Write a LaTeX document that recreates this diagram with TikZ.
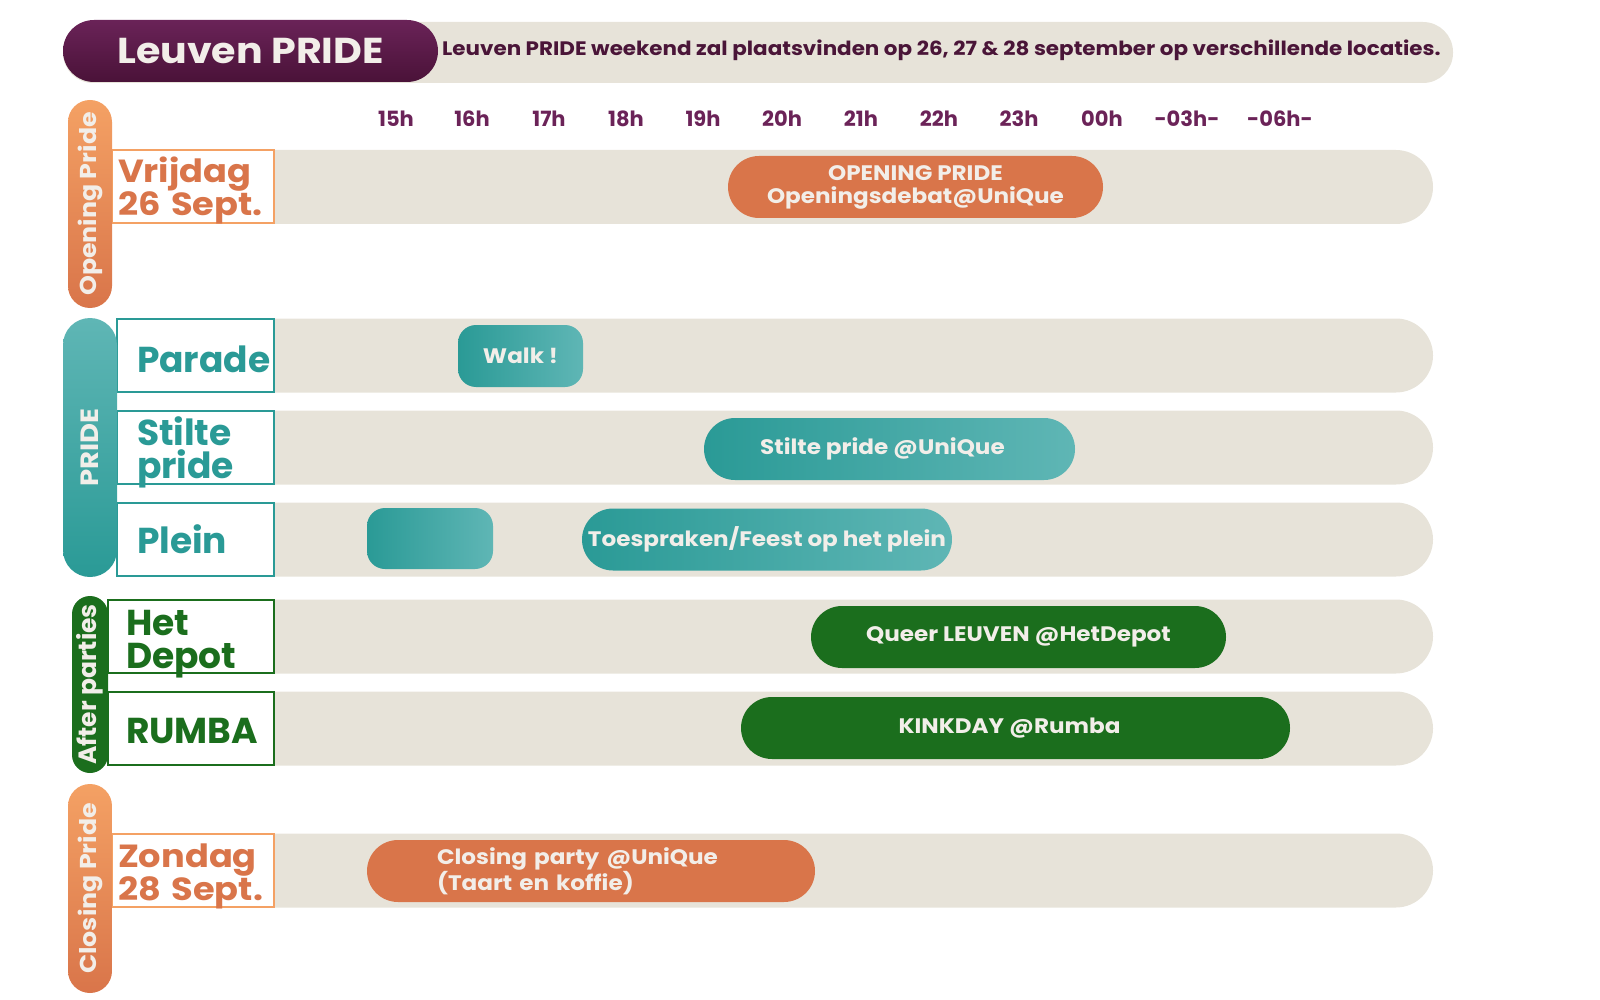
\documentclass[tikz,border=0pt]{standalone}
\usepackage{fontspec}
\setmainfont{Poppins}
\newfontfamily\wide{Poppins}[FakeStretch=1.1]
\usepackage{tikz}

\definecolor{sand}{HTML}{E7E3D9}
\definecolor{plum}{HTML}{6B2358}
\definecolor{plumdark}{HTML}{4A1538}
\definecolor{plumtop}{HTML}{6A2358}
\definecolor{plumbot}{HTML}{4A1238}
\definecolor{orng}{HTML}{D9754A}
\definecolor{ornglight}{HTML}{F4A164}
\definecolor{tealA}{HTML}{2A9A96}
\definecolor{tealB}{HTML}{5FB6B5}
\definecolor{grn}{HTML}{1B6E1D}
\definecolor{paper}{HTML}{F2EEE9}
\hyphenpenalty=10000

\begin{document}
\begin{tikzpicture}[x=1pt, y=-1pt,
  lane/.style={rectangle, fill=sand, rounded corners=37pt, minimum width=1233pt, minimum height=74pt, inner sep=0pt},
  hour/.style={text=plum, font=\fontsize{21}{24}\selectfont\bfseries, inner sep=0pt},
  tag/.style={rectangle, draw, fill=white, line width=1.5pt, minimum height=73pt, inner ysep=-6pt, align=left},
  big/.style={font=\fontsize{36}{33}\selectfont\bfseries},
  date/.style={font=\wide\fontsize{32}{33}\selectfont\bfseries},
  side/.style={rectangle, inner sep=0pt},
  sidetext/.style={rotate=90, text=paper, font=\wide\fontsize{23}{25}\selectfont\bfseries, inner sep=0pt},
  event/.style={rectangle, rounded corners=31pt, minimum height=62pt, inner sep=0pt, text=paper, align=center, font=\wide\fontsize{21}{23}\selectfont\bfseries},
  tealfill/.style={left color=tealA, right color=tealB}
]
  \useasboundingbox (0,0) rectangle (1600,1000);

  % header
  \node[rectangle, fill=sand, rounded corners=30pt, minimum width=1390pt, minimum height=61pt, inner sep=0pt] (hdr) at (758,52.5) {};
  \node[rectangle, top color=plumtop, bottom color=plumbot, rounded corners=31pt, minimum width=375pt, minimum height=62pt, inner sep=0pt,
        text=paper, font=\wide\fontsize{36}{38}\selectfont\bfseries] (title) at (250.5,51) {Leuven PRIDE};
  \node[text=plumdark, font=\wide\fontsize{19.5}{22}\selectfont\bfseries, anchor=west, inner sep=0pt] (intro) at (442,50)
        {Leuven PRIDE weekend zal plaatsvinden op 26, 27 \& 28 september op verschillende locaties.};

  % hours
  \node[hour] (t15) at (396,119) {15h};
  \node[hour] (t16) at (472,119) {16h};
  \node[hour] (t17) at (549,119) {17h};
  \node[hour] (t18) at (626,119) {18h};
  \node[hour] (t19) at (703,119) {19h};
  \node[hour] (t20) at (782,119) {20h};
  \node[hour] (t21) at (861,119) {21h};
  \node[hour] (t22) at (939,119) {22h};
  \node[hour] (t23) at (1019,119) {23h};
  \node[hour] (t00) at (1102,119) {00h};
  \node[hour] (t03) at (1187,119) {-03h-};
  \node[hour] (t06) at (1280,119) {-06h-};

  % lanes
  \node[lane] (l1) at (816.5,187) {};
  \node[lane] (l2) at (816.5,355.5) {};
  \node[lane] (l3) at (816.5,447.5) {};
  \node[lane] (l4) at (816.5,539.5) {};
  \node[lane] (l5) at (816.5,636.5) {};
  \node[lane] (l6) at (816.5,728.5) {};
  \node[lane] (l7) at (816.5,870.5) {};

  % row labels
  \node[tag, draw=ornglight, text=orng, date, minimum width=162pt, inner xsep=6pt, text width=150pt] (vrij) at (193,186.5) {\rule{0pt}{34pt}Vrijdag\\26 Sept.};
  \node[tag, draw=tealA, text=tealA, big, minimum width=157pt, inner xsep=20pt, text width=117pt] (parade) at (195.5,355.5) {\rule{0pt}{34pt}Parade};
  \node[tag, draw=tealA, text=tealA, big, minimum width=157pt, inner xsep=20pt, text width=117pt] (stilte) at (195.5,447.5) {\rule{0pt}{38pt}Stilte\\pride};
  \node[tag, draw=tealA, text=tealA, big, minimum width=157pt, inner xsep=20pt, text width=117pt] (plein) at (195.5,539.5) {Plein};
  \node[tag, draw=grn, text=grn, big, minimum width=166pt, inner xsep=18pt, text width=130pt] (depot) at (191,636.5) {\rule{0pt}{40pt}Het\\Depot};
  \node[tag, draw=grn, text=grn, big, minimum width=166pt, inner xsep=18pt, text width=130pt] (rumba) at (191,728.5) {\rule{0pt}{30pt}RUMBA};
  \node[tag, draw=ornglight, text=orng, date, minimum width=162pt, inner xsep=6pt, text width=150pt] (zon) at (193,870.5) {\rule{0pt}{36pt}Zondag\\28 Sept.};

  % side bars
  \node[side, top color=ornglight, bottom color=orng, rounded corners=22pt, minimum width=44pt, minimum height=208pt] (opn) at (90,204) {};
  \node[sidetext] at (opn) {Opening Pride};
  \node[side, top color=tealB, bottom color=tealA, rounded corners=27pt, minimum width=54pt, minimum height=259pt] (pride) at (90,447.5) {};
  \node[sidetext, font=\wide\fontsize{25}{27}\selectfont\bfseries] at (pride) {PRIDE};
  \node[side, fill=grn, rounded corners=18pt, minimum width=36pt, minimum height=177pt] (aft) at (90,684.5) {};
  \node[sidetext, font=\fontsize{25}{27}\selectfont\bfseries] at (aft) {After parties};
  \node[side, top color=ornglight, bottom color=orng, rounded corners=22pt, minimum width=44pt, minimum height=209pt] (cls) at (90,888.5) {};
  \node[sidetext] at (cls) {Closing Pride};

  % events
  \node[event, fill=orng, minimum width=375pt] (open) at (915.5,187) {OPENING PRIDE\\Openingsdebat@UniQue};
  \node[event, tealfill, rounded corners=18pt, minimum width=125pt] (walk) at (520.5,356) {Walk !};
  \node[event, tealfill, rounded corners=18pt, minimum width=126pt, minimum height=61pt] (meet) at (430,538.5) {};
  \node[event, tealfill, minimum width=371pt] (silent) at (889.5,449) {\hspace{-14pt}Stilte pride @UniQue};
  \node[event, tealfill, minimum width=370pt] (speech) at (767,539.5) {Toespraken/Feest op het plein};
  \node[event, fill=grn, minimum width=415pt] (queer) at (1018.5,637) {Queer LEUVEN @HetDepot};
  \node[event, fill=grn, minimum width=549pt] (kink) at (1015.5,728) {\hspace{-12pt}KINKDAY @Rumba};
  \node[event, fill=orng, minimum width=448pt, text width=308pt, align=left] (close) at (591,871) {Closing party @UniQue\\(Taart en koffie)};
\end{tikzpicture}
\end{document}
